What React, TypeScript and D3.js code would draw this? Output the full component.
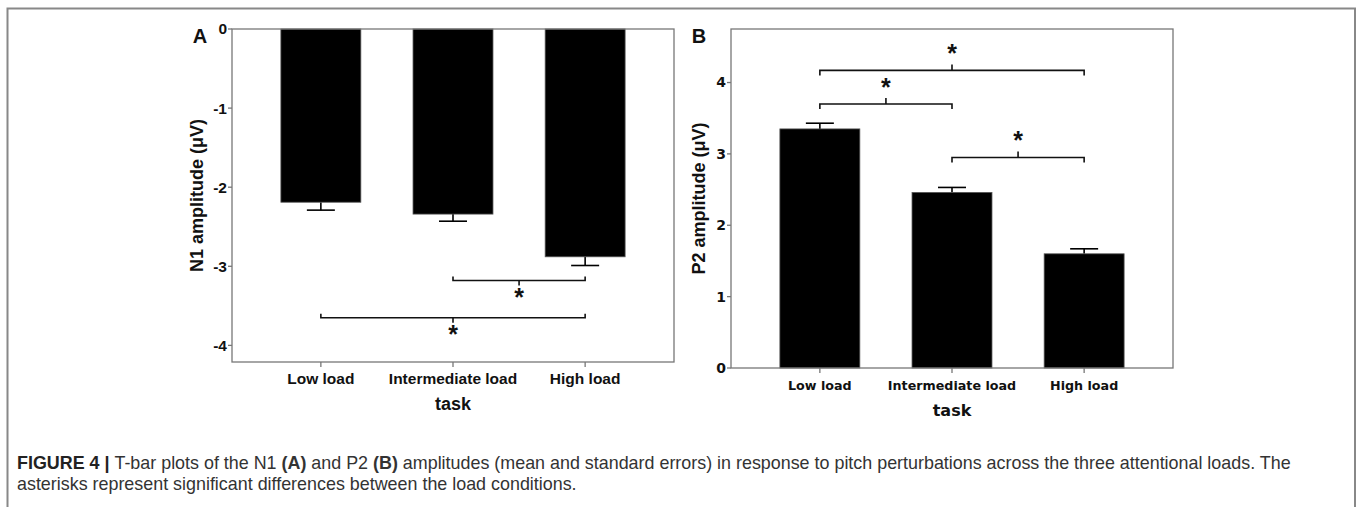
import React from "react";
import * as d3 from "d3";

const categories = ["Low load", "Intermediate load", "High load"];
const n1Mean = [-2.19, -2.34, -2.88];
const n1Err = [0.1, 0.09, 0.11];
const p2Mean = [3.35, 2.46, 1.6];
const p2Err = [0.08, 0.07, 0.07];
const n1Ticks = [0, -1, -2, -3, -4];
const p2Ticks = [0, 1, 2, 3, 4];
const n1Sig = [
  { from: 1, to: 2, y: -3.18 },
  { from: 0, to: 2, y: -3.65 },
];
const p2Sig = [
  { from: 0, to: 2, y: 4.17 },
  { from: 0, to: 1, y: 3.7 },
  { from: 1, to: 2, y: 2.95 },
];
const captionLine1Bold = "FIGURE 4 | ";
const captionLine1a = "T-bar plots of the N1 ";
const captionLine1b = " and P2 ";
const captionLine1c = " amplitudes (mean and standard errors) in response to pitch perturbations across the three attentional loads. The";
const captionLine2 = "asterisks represent significant differences between the load conditions.";

const FRAME = "#777";
const ARIAL = "'Liberation Sans', Arial, sans-serif";
const VERD = "'DejaVu Sans', Verdana, sans-serif";

type Sig = { from: number; to: number; y: number };

function Panel(props: {
  left: number;
  right: number;
  top: number;
  bottom: number;
  domain: [number, number];
  means: number[];
  errs: number[];
  ticks: number[];
  sig: Sig[];
  negative: boolean;
  letter: string;
  ylabel: string;
  tickFont: string;
  tickSize: number;
  catFont: string;
  catSize: number;
  taskSize: number;
  ylabelX: number;
}) {
  const { left, right, top, bottom, domain, means, errs, ticks, sig, negative } = props;
  const x = d3
    .scaleBand<string>()
    .domain(categories)
    .range([left, right])
    .paddingInner(0.395)
    .paddingOuter(0.37);
  const y = d3.scaleLinear().domain(domain).range([top, bottom]);
  const y0 = y(0);
  const bw = x.bandwidth();
  const cap = 28;
  const frameBottom = negative ? bottom : y0;
  return (
    <g>
      {means.map((m, i) => {
        const cx = (x(categories[i]) as number) + bw / 2;
        const yv = y(m);
        const ye = y(m + (negative ? -errs[i] : errs[i]));
        return (
          <g key={i}>
            <line x1={cx} x2={cx} y1={yv} y2={ye} stroke="#000" strokeWidth={1.6} />
            <line x1={cx - cap / 2} x2={cx + cap / 2} y1={ye} y2={ye} stroke="#000" strokeWidth={1.6} />
            <rect
              x={x(categories[i])}
              width={bw}
              y={Math.min(yv, y0)}
              height={Math.abs(yv - y0)}
              fill="#000"
              stroke="#555"
              strokeWidth={0.8}
            />
          </g>
        );
      })}
      <rect x={left} y={top} width={right - left} height={frameBottom - top} fill="none" stroke={FRAME} strokeWidth={1.3} />
      {ticks.map((t) => (
        <g key={t}>
          <line x1={left - 4} x2={left} y1={y(t)} y2={y(t)} stroke={FRAME} strokeWidth={1.3} />
          <text
            x={left - 5}
            y={y(t)}
            dy="0.35em"
            textAnchor="end"
            fontFamily={props.tickFont}
            fontWeight="bold"
            fontSize={props.tickSize}
            fill="#111"
          >
            {t}
          </text>
        </g>
      ))}
      {categories.map((c) => {
        const cx = (x(c) as number) + bw / 2;
        return (
          <g key={c}>
            <line x1={cx} x2={cx} y1={frameBottom} y2={frameBottom + 5} stroke={FRAME} strokeWidth={1.3} />
            <text
              x={cx}
              y={frameBottom + 22}
              textAnchor="middle"
              fontFamily={props.catFont}
              fontWeight="bold"
              fontSize={props.catSize}
              fill="#111"
            >
              {c}
            </text>
          </g>
        );
      })}
      <text
        x={(left + right) / 2}
        y={frameBottom + 48}
        textAnchor="middle"
        fontFamily={props.catFont}
        fontWeight="bold"
        fontSize={props.taskSize}
        fill="#111"
      >
        task
      </text>
      <text
        transform={`translate(${props.ylabelX},${(top + frameBottom) / 2}) rotate(-90)`}
        textAnchor="middle"
        fontFamily={ARIAL}
        fontWeight="bold"
        fontSize={18}
        fill="#111"
      >
        {props.ylabel}
      </text>
      {sig.map((s, i) => {
        const x1 = (x(categories[s.from]) as number) + bw / 2;
        const x2 = (x(categories[s.to]) as number) + bw / 2;
        const yy = y(s.y);
        const e = negative ? -4 : 5;
        const c = negative ? 5 : -6;
        const mid = (x1 + x2) / 2;
        const ast = negative ? yy + 25 : yy - 8;
        return (
          <g key={i}>
            <path
              d={`M${x1},${yy + e}V${yy}H${x2}V${yy + e}M${mid},${yy}V${yy + c}`}
              fill="none"
              stroke="#111"
              strokeWidth={1.6}
            />
            <text
              x={mid}
              y={ast}
              textAnchor="middle"
              fontFamily={ARIAL}
              fontWeight="bold"
              fontSize={25}
              fill="#111"
            >
              *
            </text>
          </g>
        );
      })}
      <text
        x={left - 32}
        y={top + 14}
        textAnchor="middle"
        fontFamily={ARIAL}
        fontWeight="bold"
        fontSize={20}
        fill="#111"
      >
        {props.letter}
      </text>
    </g>
  );
}

export default function App() {
  const capFont = "'Liberation Sans', Arial, sans-serif";
  return (
    <svg
      width={1360}
      height={507}
      style={{ position: "absolute", left: 0, top: 0, background: "#fff" }}
    >
      <rect width={1360} height={507} fill="#fff" />
      <path d="M7.5,507V8.5H1355V507" fill="none" stroke="#888" strokeWidth={2} />
      <Panel
        left={232}
        right={674}
        top={29}
        bottom={362}
        domain={[0, -4.21]}
        means={n1Mean}
        errs={n1Err}
        ticks={n1Ticks}
        sig={n1Sig}
        negative={true}
        letter="A"
        ylabel="N1 amplitude (μV)"
        tickFont={ARIAL}
        tickSize={15.5}
        catFont={ARIAL}
        catSize={15.5}
        taskSize={18}
        ylabelX={203}
      />
      <Panel
        left={731}
        right={1173}
        top={29}
        bottom={368}
        domain={[4.75, 0]}
        means={p2Mean}
        errs={p2Err}
        ticks={p2Ticks}
        sig={p2Sig}
        negative={false}
        letter="B"
        ylabel="P2 amplitude (μV)"
        tickFont={VERD}
        tickSize={14}
        catFont={VERD}
        catSize={12.7}
        taskSize={16}
        ylabelX={705}
      />
      <text x={17} y={469} fontFamily={capFont} fontSize={17.9} fill="#333">
        <tspan fontWeight="bold" fill="#222">{captionLine1Bold}</tspan>
        <tspan>{captionLine1a}</tspan>
        <tspan fontWeight="bold">(A)</tspan>
        <tspan>{captionLine1b}</tspan>
        <tspan fontWeight="bold">(B)</tspan>
        <tspan>{captionLine1c}</tspan>
      </text>
      <text x={17} y={490} fontFamily={capFont} fontSize={17.9} fill="#333">
        {captionLine2}
      </text>
    </svg>
  );
}
